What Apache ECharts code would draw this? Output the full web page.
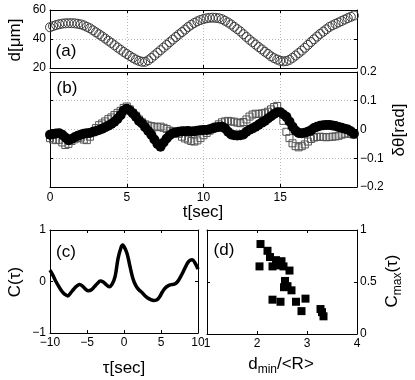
<!DOCTYPE html>
<html>
<head>
<meta charset="utf-8">
<script src="https://cdn.jsdelivr.net/npm/echarts@6/dist/echarts.min.js"></script>
<style>
  html, body { margin: 0; padding: 0; background: #fff; }
  #chart { width: 415px; height: 380px; }
</style>
</head>
<body>
<div id="chart"></div>
<script>
// sampling step of the time traces (sec)
const tStep = 0.2

// (a) distance d [um], one value per tStep from t = 0
const dVals = [
  48.1, 48.9, 49.6, 50.2, 50.6, 50.8, 50.9, 50.9, 50.8, 50.5,
  50.1, 49.4, 48.4, 47.4, 46.0, 44.6, 43.2, 41.8, 40.3, 38.8,
  37.3, 35.7, 34.1, 32.6, 31.1, 29.7, 28.3, 27.0, 25.8, 24.9,
  24.3, 24.3, 25.3, 26.9, 28.7, 30.5, 32.3, 34.1, 35.9, 37.8,
  39.6, 41.4, 43.1, 44.8, 46.5, 48.3, 49.8, 51.1, 52.2, 53.1,
  53.8, 54.3, 54.6, 54.7, 54.6, 54.3, 53.7, 52.6, 51.4, 50.0,
  48.4, 46.8, 45.2, 43.3, 41.4, 39.5, 37.8, 36.1, 34.4, 32.8,
  31.2, 29.7, 28.0, 26.8, 25.8, 25.0, 24.6, 24.8, 25.6, 27.0,
  28.6, 30.3, 32.0, 33.9, 35.9, 37.9, 39.8, 41.7, 43.5, 45.1,
  46.7, 48.3, 49.4, 50.4, 51.4, 52.4, 53.4, 54.4, 55.3, 56.2
]

// (b) angle deviation [rad], open squares
const thSquares = [
  -0.030, -0.035, -0.037, -0.036, -0.045, -0.054, -0.050, -0.040, -0.034, -0.030,
  -0.028, -0.035, -0.037, -0.025, -0.010, 0.005, 0.015, 0.021, 0.028, 0.036,
  0.042, 0.050, 0.058, 0.065, 0.075, 0.080, 0.070, 0.058, 0.048, 0.035,
  0.025, 0.018, 0.014, 0.012, 0.010, 0.008, 0.010, 0.006, 0.002, -0.004,
  -0.006, -0.008, -0.015, -0.025, -0.031, -0.035, -0.040, -0.042, -0.038, -0.030,
  -0.020, -0.012, -0.004, 0.004, 0.010, 0.018, 0.025, 0.028, 0.030, 0.028,
  0.027, 0.024, 0.022, 0.026, 0.035, 0.045, 0.052, 0.055, 0.054, 0.056,
  0.058, 0.062, 0.070, 0.078, 0.082, 0.060, 0.030, -0.008, -0.030, -0.048,
  -0.058, -0.062, -0.058, -0.052, -0.042, -0.033, -0.028, -0.026, -0.025, -0.026,
  -0.027, -0.026, -0.025, -0.024, -0.022, -0.018, -0.015, -0.014, -0.015, -0.018
]

// (b) angle deviation [rad], filled circles
const thCircles = [
  -0.018, -0.016, -0.014, -0.013, -0.018, -0.028, -0.037, -0.033, -0.027, -0.022,
  -0.018, -0.015, -0.013, -0.012, -0.008, -0.005, -0.002, 0.003, 0.008, 0.013,
  0.019, 0.027, 0.037, 0.050, 0.066, 0.072, 0.066, 0.056, 0.044, 0.030,
  0.021, 0.008, -0.005, -0.018, -0.035, -0.050, -0.060, -0.045, -0.031, -0.020,
  -0.013, -0.010, -0.008, -0.006, -0.006, -0.005, -0.007, -0.006, -0.004, -0.003,
  -0.002, -0.002, 0.001, 0.004, 0.007, 0.009, 0.010, 0.004, -0.008, -0.017,
  -0.020, -0.021, -0.020, -0.017, -0.008, -0.001, 0.004, 0.010, 0.017, 0.024,
  0.030, 0.038, 0.046, 0.054, 0.060, 0.060, 0.052, 0.044, 0.028, 0.010,
  -0.004, -0.012, -0.013, -0.011, -0.008, -0.003, 0.005, 0.010, 0.013, 0.015,
  0.016, 0.016, 0.014, 0.012, 0.009, 0.006, 0.003, 0.000, -0.006, -0.015
]

// (c) cross correlation
const tau = [
  -10, -9.6, -9.2, -8.8, -8.4, -8.0, -7.6, -7.2, -6.8, -6.4,
  -6.0, -5.6, -5.2, -4.8, -4.4, -4.0, -3.6, -3.2, -2.8, -2.4,
  -2.0, -1.6, -1.2, -0.8, -0.4, -0.2, 0, 0.4, 0.8, 1.2,
  1.6, 2.0, 2.4, 2.8, 3.2, 3.6, 4.0, 4.4, 4.8, 5.2,
  5.6, 6.0, 6.4, 6.8, 7.2, 7.6, 8.0, 8.4, 8.8, 9.2,
  9.6, 10
]
const corr = [
  0.22, 0.12, 0.00, -0.10, -0.19, -0.25, -0.28, -0.22, -0.15, -0.09,
  -0.06, -0.09, -0.15, -0.18, -0.16, -0.10, -0.04, 0.01, -0.01, -0.06,
  -0.10, -0.05, 0.10, 0.45, 0.66, 0.71, 0.68, 0.55, 0.30, 0.06,
  -0.08, -0.16, -0.21, -0.27, -0.32, -0.35, -0.37, -0.36, -0.30, -0.20,
  -0.12, -0.08, -0.06, -0.05, -0.01, 0.08, 0.19, 0.31, 0.40, 0.42,
  0.36, 0.24
]

// (d) max correlation vs normalised minimal distance
const dMin = [2.07, 2.21, 2.26, 2.38, 2.49, 2.05, 2.31, 2.46, 2.53, 2.65, 2.56,
  2.54, 2.61, 2.69, 2.31, 2.47, 2.78, 2.97, 2.89, 3.27, 3.33, 3.30]
const cMax = [0.865, 0.80, 0.74, 0.71, 0.70, 0.65, 0.65, 0.66, 0.65, 0.61, 0.51,
  0.45, 0.46, 0.42, 0.33, 0.31, 0.31, 0.34, 0.22, 0.24, 0.17, 0.21]

const font = 'Liberation Sans'
const minus = v => String(v).replace('-', '\u2212')

function axis (grid, min, max, interval, opts) {
  opts = opts || {}
  return {
    type: 'value',
    gridIndex: grid,
    min: min,
    max: max,
    interval: interval,
    position: opts.position,
    axisLine: { show: true, onZero: false, lineStyle: { color: '#000', width: 1 } },
    axisTick: { show: true, inside: true, length: 3, lineStyle: { color: '#000' } },
    axisLabel: {
      show: !!opts.labels,
      color: '#000',
      fontFamily: font,
      fontSize: 12,
      margin: opts.margin || 4,
      showMaxLabel: opts.showMax !== false,
      formatter: minus
    },
    splitLine: {
      show: !!opts.grid,
      lineStyle: { color: '#bbb', type: [1, 2], width: 1 }
    }
  }
}

function title (text, x, y, rot, size) {
  return {
    type: 'text',
    x: x,
    y: y,
    rotation: rot || 0,
    style: {
      text: text,
      fontFamily: font,
      fontSize: size || 17,
      fill: '#000',
      align: 'center',
      verticalAlign: 'middle',
      rich: {
        s: { fontFamily: font, fontSize: 12, padding: [12, 0, 0, 0] },
        n: { fontFamily: font, fontSize: size || 17 }
      }
    }
  }
}

const pairs = vals => vals.map((v, i) => [+(i * tStep).toFixed(2), v])

const option = {
  animation: false,
  backgroundColor: '#fff',
  grid: [
    { left: 50, top: 10, width: 307, height: 58 },
    { left: 50, top: 72, width: 307, height: 115 },
    { left: 50, top: 230, width: 148, height: 103 },
    { left: 207, top: 230, width: 150, height: 104 }
  ],
  xAxis: [
    axis(0, 0, 20, 5, { grid: true, position: 'bottom' }),
    axis(1, 0, 20, 5, { grid: true, labels: true, showMax: false, position: 'bottom', margin: 5 }),
    axis(2, -10, 10, 5, { labels: true, position: 'bottom', margin: 4 }),
    axis(3, 1, 4, 1, { labels: true, position: 'bottom', margin: 4 }),
    axis(0, 0, 20, 5, { position: 'top' }),
    axis(1, 0, 20, 5, { position: 'top' }),
    axis(2, -10, 10, 5, { position: 'top' }),
    axis(3, 1, 4, 1, { position: 'top' })
  ],
  yAxis: [
    axis(0, 20, 60, 20, { grid: true, labels: true, position: 'left', margin: 4 }),
    axis(1, -0.2, 0.2, 0.1, { grid: true, labels: true, position: 'right', margin: 3 }),
    axis(2, -1, 1, 1, { labels: true, position: 'left', margin: 4 }),
    axis(3, 0, 1, 0.5, { labels: true, position: 'right', margin: 3 }),
    axis(0, 20, 60, 20, { position: 'right' }),
    axis(1, -0.2, 0.2, 0.1, { position: 'left' }),
    axis(2, -1, 1, 1, { position: 'right' }),
    axis(3, 0, 1, 0.5, { position: 'left' })
  ],
  series: [
    {
      type: 'scatter',
      xAxisIndex: 0,
      yAxisIndex: 0,
      symbol: 'circle',
      symbolSize: 9,
      itemStyle: { color: 'rgba(0,0,0,0)', borderColor: '#3a3a3a', borderWidth: 1, opacity: 1 },
      data: pairs(dVals)
    },
    {
      type: 'scatter',
      xAxisIndex: 1,
      yAxisIndex: 1,
      symbol: 'rect',
      symbolSize: 7,
      itemStyle: { color: 'rgba(0,0,0,0)', borderColor: '#555', borderWidth: 1, opacity: 1 },
      data: pairs(thSquares)
    },
    {
      type: 'scatter',
      xAxisIndex: 1,
      yAxisIndex: 1,
      symbol: 'circle',
      symbolSize: 10,
      itemStyle: { color: '#000', opacity: 1 },
      data: pairs(thCircles)
    },
    {
      type: 'line',
      xAxisIndex: 2,
      yAxisIndex: 2,
      showSymbol: false,
      smooth: 0.4,
      lineStyle: { color: '#000', width: 3.5 },
      data: tau.map((t, i) => [t, corr[i]])
    },
    {
      type: 'scatter',
      xAxisIndex: 3,
      yAxisIndex: 3,
      symbol: 'rect',
      symbolSize: 8,
      itemStyle: { color: '#000', opacity: 1 },
      data: dMin.map((d, i) => [d, cMax[i]])
    }
  ],
  graphic: [
    title('d[μm]', 15, 40, Math.PI / 2),
    title('δθ[rad]', 399, 130, Math.PI / 2),
    title('t[sec]', 203, 212),
    title('C(τ)', 15, 282, Math.PI / 2),
    title('τ[sec]', 124, 368),
    title('{n|d}{s|min}{n|/<R>}', 281, 364),
    title('{n|C}{s|max}{n|(τ)}', 392, 281, Math.PI / 2),
    title('(a)', 66, 51),
    title('(b)', 67, 88),
    title('(c)', 66, 252),
    title('(d)', 224, 250)
  ]
}

const chart = echarts.init(document.getElementById('chart'))
chart.setOption(option)
</script>
</body>
</html>
